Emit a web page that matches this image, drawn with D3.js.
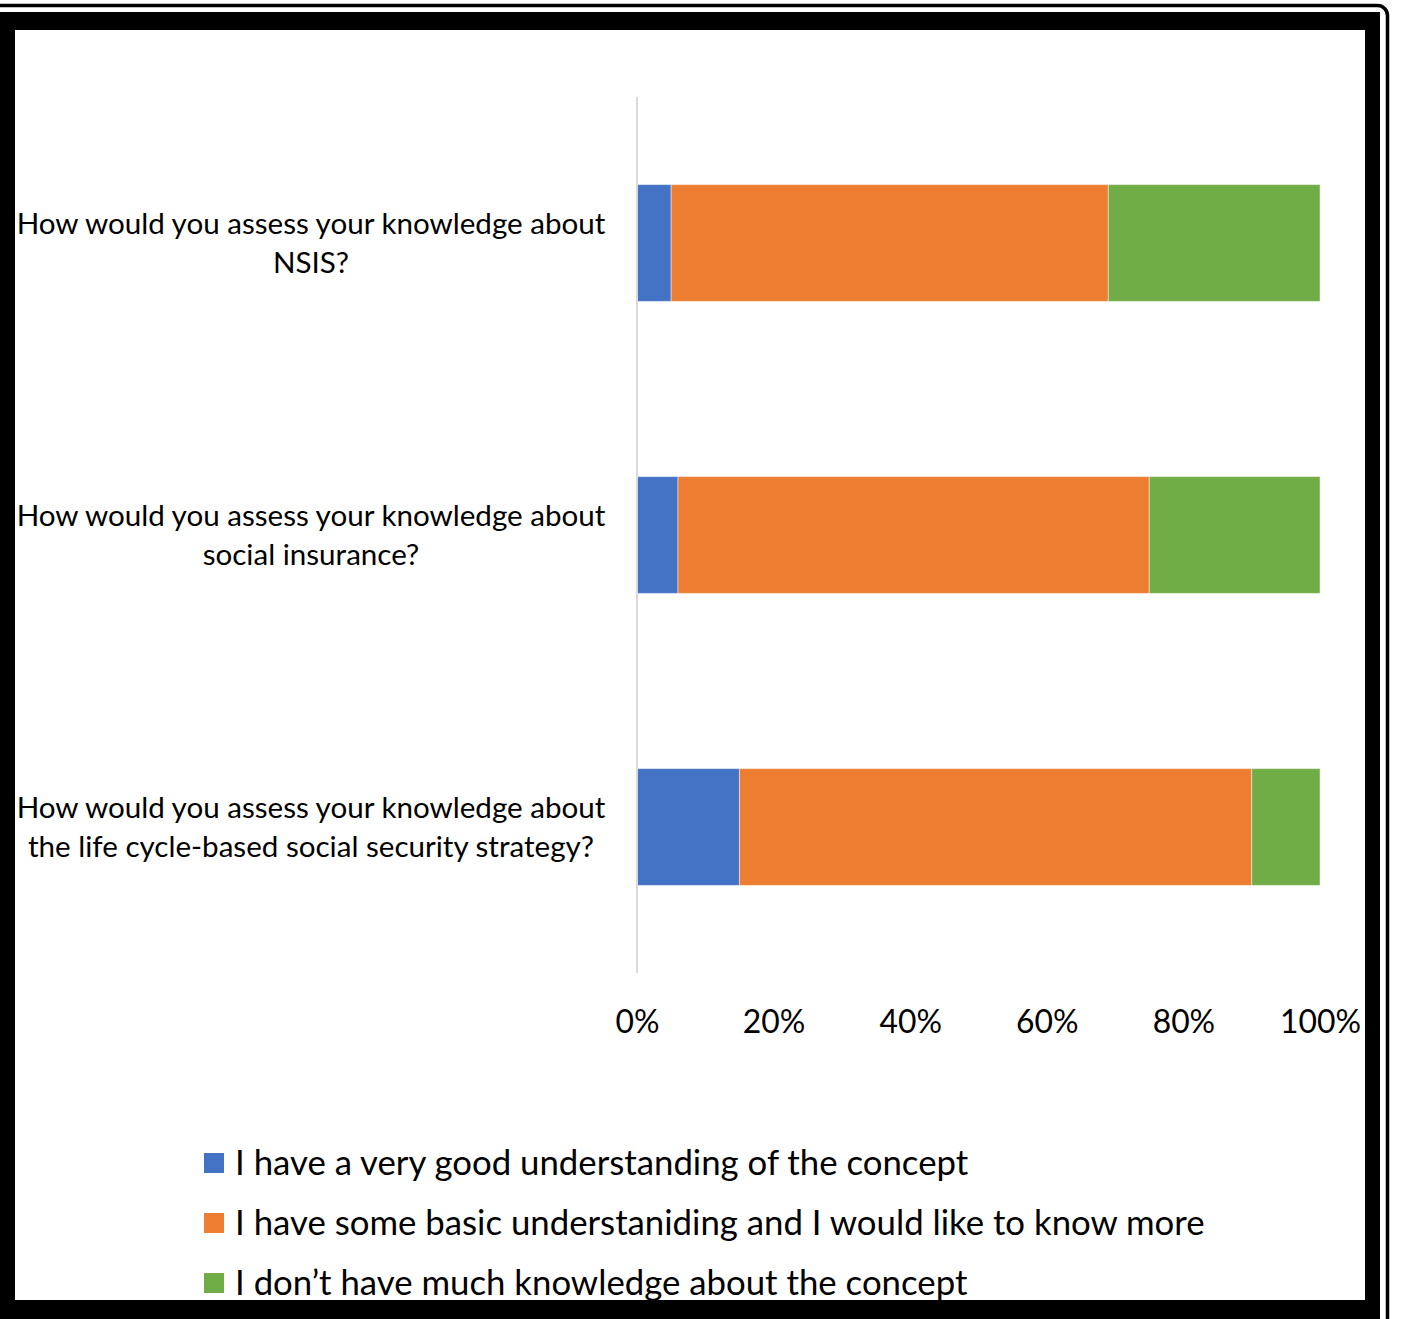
<!DOCTYPE html>
<html>
<head>
<meta charset="utf-8">
<script src="https://cdn.jsdelivr.net/npm/d3@7"></script>
<style>
  html, body { margin: 0; padding: 0; background: #fff; }
  svg { display: block; }
</style>
</head>
<body>
<svg id="chart" width="1401" height="1319"></svg>
<script>
// ---------- data ----------
const categories = [
  "How would you assess your knowledge about\nNSIS?",
  "How would you assess your knowledge about\nsocial insurance?",
  "How would you assess your knowledge about\nthe life cycle-based social security strategy?"
];
const seriesNames = [
  "I have a very good understanding of the concept",
  "I have some basic understaniding and I would like to know more",
  "I don\u2019t have much knowledge about the concept"
];
const seriesColors = ["#4472C4", "#ED7D31", "#70AD47"];
const veryGood    = [5, 6, 15];
const basic       = [64, 69, 75];
const noKnowledge = [31, 25, 10];
const xTicks = [0, 20, 40, 60, 80, 100];

// ---------- layout ----------
const W = 1401, H = 1319;
const plot = { left: 637, right: 1320, top: 97, bottom: 973 };
const FONT = "Lato, 'Open Sans', sans-serif";

const svg = d3.select("#chart");
svg.append("rect").attr("width", W).attr("height", H).attr("fill", "#fff");

// helper: font size so that a text has a given width
function fitSize(text, target, weight) {
  const t = svg.append("text").attr("font-family", FONT).attr("font-size", 100)
    .attr("font-weight", weight || "normal").text(text);
  const w = t.node().getComputedTextLength();
  t.remove();
  return 100 * target / w;
}

const rows = categories.map((c, i) => ({
  cat: c, veryGood: veryGood[i], basic: basic[i], noKnowledge: noKnowledge[i]
}));
const keys = ["veryGood", "basic", "noKnowledge"];
const stacked = d3.stack().keys(keys)(rows);

const x = d3.scaleLinear().domain([0, 100]).range([plot.left, plot.right]);
const y = d3.scaleBand().domain(categories).range([plot.top, plot.bottom])
  .paddingInner(0.6).paddingOuter(0.3);

// bars
const g = svg.append("g");
stacked.forEach((s, si) => {
  g.selectAll(null).data(s).enter().append("rect")
    .attr("x", d => x(d[0]))
    .attr("y", d => y(d.data.cat))
    .attr("width", d => x(d[1]) - x(d[0]))
    .attr("height", y.bandwidth())
    .attr("fill", seriesColors[si])
    .attr("stroke", "rgba(255,255,255,0.45)")
    .attr("stroke-width", 1);
});

// category axis line
const yAxis = d3.axisLeft(y).tickSize(0).tickFormat("");
const yg = svg.append("g").attr("transform", `translate(${plot.left},0)`).call(yAxis);
yg.select(".domain").attr("stroke", "#d9d9d9").attr("stroke-width", 2)
  .attr("d", `M0,${plot.top}V${plot.bottom}`);

// category labels (wrapped, centered)
const catSize = fitSize("How would you assess your knowledge about", 589);
const lineH = 39;
categories.forEach(c => {
  const lines = c.split("\n");
  const cy = y(c) + y.bandwidth() / 2;
  const t = svg.append("text")
    .attr("font-family", FONT).attr("font-size", catSize).attr("fill", "#000")
    .attr("text-anchor", "middle");
  lines.forEach((ln, li) => {
    t.append("tspan").attr("x", 311)
      .attr("y", cy + (li - (lines.length - 1) / 2) * lineH)
      .attr("dy", "0.35em").text(ln);
  });
});

// value axis
const tickSize = fitSize("100%", 81);
const xAxis = d3.axisBottom(x).tickValues(xTicks).tickSize(0).tickPadding(0)
  .tickFormat(d => d + "%");
const xg = svg.append("g").attr("transform", `translate(0,1022)`).call(xAxis);
xg.select(".domain").remove();
xg.selectAll("text").attr("font-family", FONT).attr("font-size", tickSize)
  .attr("fill", "#000").attr("dy", "0.35em").attr("y", 0);

// legend
const legSize = fitSize(seriesNames[1], 970);
const legY = [1163, 1223, 1283];
seriesNames.forEach((n, i) => {
  svg.append("rect").attr("x", 204).attr("y", legY[i] - 10)
    .attr("width", 20).attr("height", 20).attr("fill", seriesColors[i]);
  svg.append("text").attr("x", 235).attr("y", legY[i]).attr("dy", "0.35em")
    .attr("font-family", FONT).attr("font-size", legSize).attr("fill", "#000")
    .text(n);
});

// ---------- frame (drawn on top) ----------
const frame = svg.append("g");
// thick inner frame
frame.append("rect").attr("x", 0).attr("y", 12).attr("width", 1380).attr("height", 18).attr("fill", "#000");
frame.append("rect").attr("x", 0).attr("y", 12).attr("width", 15).attr("height", H - 12).attr("fill", "#000");
frame.append("rect").attr("x", 1365).attr("y", 12).attr("width", 15).attr("height", H - 12).attr("fill", "#000");
frame.append("rect").attr("x", 0).attr("y", 1300).attr("width", 1380).attr("height", 19).attr("fill", "#000");
// thin outer line with rounded corner
frame.append("path")
  .attr("d", `M0,5.5H1377A10,10 0 0 1 1387.5,16V${H}`)
  .attr("fill", "none").attr("stroke", "#000").attr("stroke-width", 3.5);
</script>
</body>
</html>
